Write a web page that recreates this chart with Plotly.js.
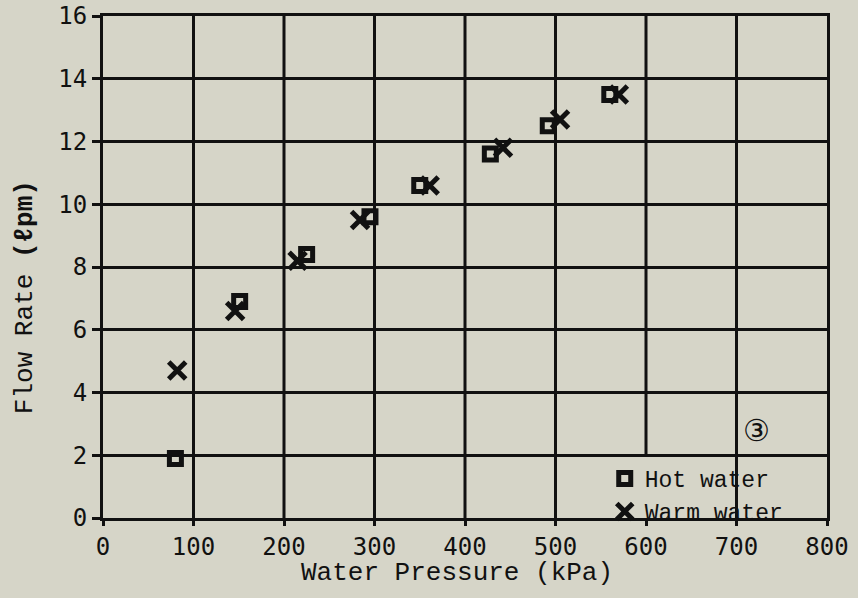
<!DOCTYPE html>
<html>
<head>
<meta charset="utf-8">
<script src="https://cdn.plot.ly/plotly-3.0.1.min.js"></script>
<style>
html,body{margin:0;padding:0;background:#d6d5c8;}
#chart{width:858px;height:598px;}
</style>
</head>
<body>
<div id="chart"></div>
<script>
// Data
var hotPressure = [80, 151, 225, 295, 350, 428, 492, 560];
var hotFlow     = [1.9, 6.9, 8.4, 9.6, 10.6, 11.6, 12.5, 13.5];
var warmPressure = [82, 146, 215, 284, 361, 442, 505, 570];
var warmFlow     = [4.7, 6.6, 8.2, 9.5, 10.6, 11.8, 12.7, 13.5];
var xTicks = [0, 100, 200, 300, 400, 500, 600, 700, 800];
var yTicks = [0, 2, 4, 6, 8, 10, 12, 14, 16];

var bg = '#d6d5c8';
var ink = '#111111';

var traces = [
  {x: hotPressure, y: hotFlow, name: 'Hot water', mode: 'markers', type: 'scatter',
   marker: {symbol: 'square-open', size: 12, color: ink, line: {width: 5, color: ink}}},
  {x: warmPressure, y: warmFlow, name: 'Warm water', mode: 'markers', type: 'scatter',
   marker: {symbol: 'x-thin-open', size: 17, color: ink, line: {width: 5, color: ink}}}
];

// vertical grid lines (the 600 line stops at the legend box, y = 2)
var shapes = [];
xTicks.forEach(function(v){
  if (v === 0 || v === 800) return;
  shapes.push({type: 'line', layer: 'below', xref: 'x', yref: 'y',
    x0: v, x1: v, y0: (v === 600 ? 2 : 0), y1: 16,
    line: {color: ink, width: 3}});
});

var tickFont = {family: 'DejaVu Sans Mono, monospace', size: 24, color: ink};
var titleFont = {family: 'Liberation Mono, Courier New, monospace', size: 26, color: ink};

var layout = {
  width: 858, height: 598,
  paper_bgcolor: bg, plot_bgcolor: bg,
  margin: {l: 103, r: 31, t: 16, b: 80},
  showlegend: true,
  legend: {x: 0.693, y: -0.03, xanchor: 'left', yanchor: 'bottom',
    bgcolor: 'rgba(0,0,0,0)', font: {family: 'Liberation Mono, monospace', size: 23, color: ink},
    tracegroupgap: 0, itemwidth: 30},
  xaxis: {range: [0, 800], tickvals: xTicks, ticktext: xTicks.map(String),
    showgrid: false, zeroline: false, showline: true, linewidth: 3, linecolor: ink, mirror: true,
    ticks: 'outside', ticklen: 5, tickwidth: 3, tickcolor: ink, tickfont: tickFont,
    ticklabeloverflow: 'allow'},
  yaxis: {range: [0, 16], tickvals: yTicks, ticktext: yTicks.map(String),
    showgrid: true, gridcolor: ink, gridwidth: 3, zeroline: false,
    showline: true, linewidth: 3, linecolor: ink, mirror: true,
    ticks: 'outside', ticklen: 8, tickwidth: 3, tickcolor: ink, tickfont: tickFont,
    ticklabeloverflow: 'allow'},
  shapes: shapes,
  annotations: [
    {xref: 'paper', yref: 'paper', x: 0.489, y: -0.11, xanchor: 'center', yanchor: 'middle',
     text: 'Water Pressure (kPa)', showarrow: false, font: titleFont},
    {xref: 'paper', yref: 'paper', x: -0.1077, y: 0.44, xanchor: 'center', yanchor: 'middle',
     textangle: -90, text: 'Flow Rate <b>(ℓpm)</b>', showarrow: false, font: titleFont},
    {xref: 'x', yref: 'y', x: 722, y: 2.8, text: '③', showarrow: false,
     font: {family: 'DejaVu Sans, sans-serif', size: 30, color: ink}}
  ]
};

Plotly.newPlot('chart', traces, layout, {displayModeBar: false, staticPlot: true});
</script>
</body>
</html>
